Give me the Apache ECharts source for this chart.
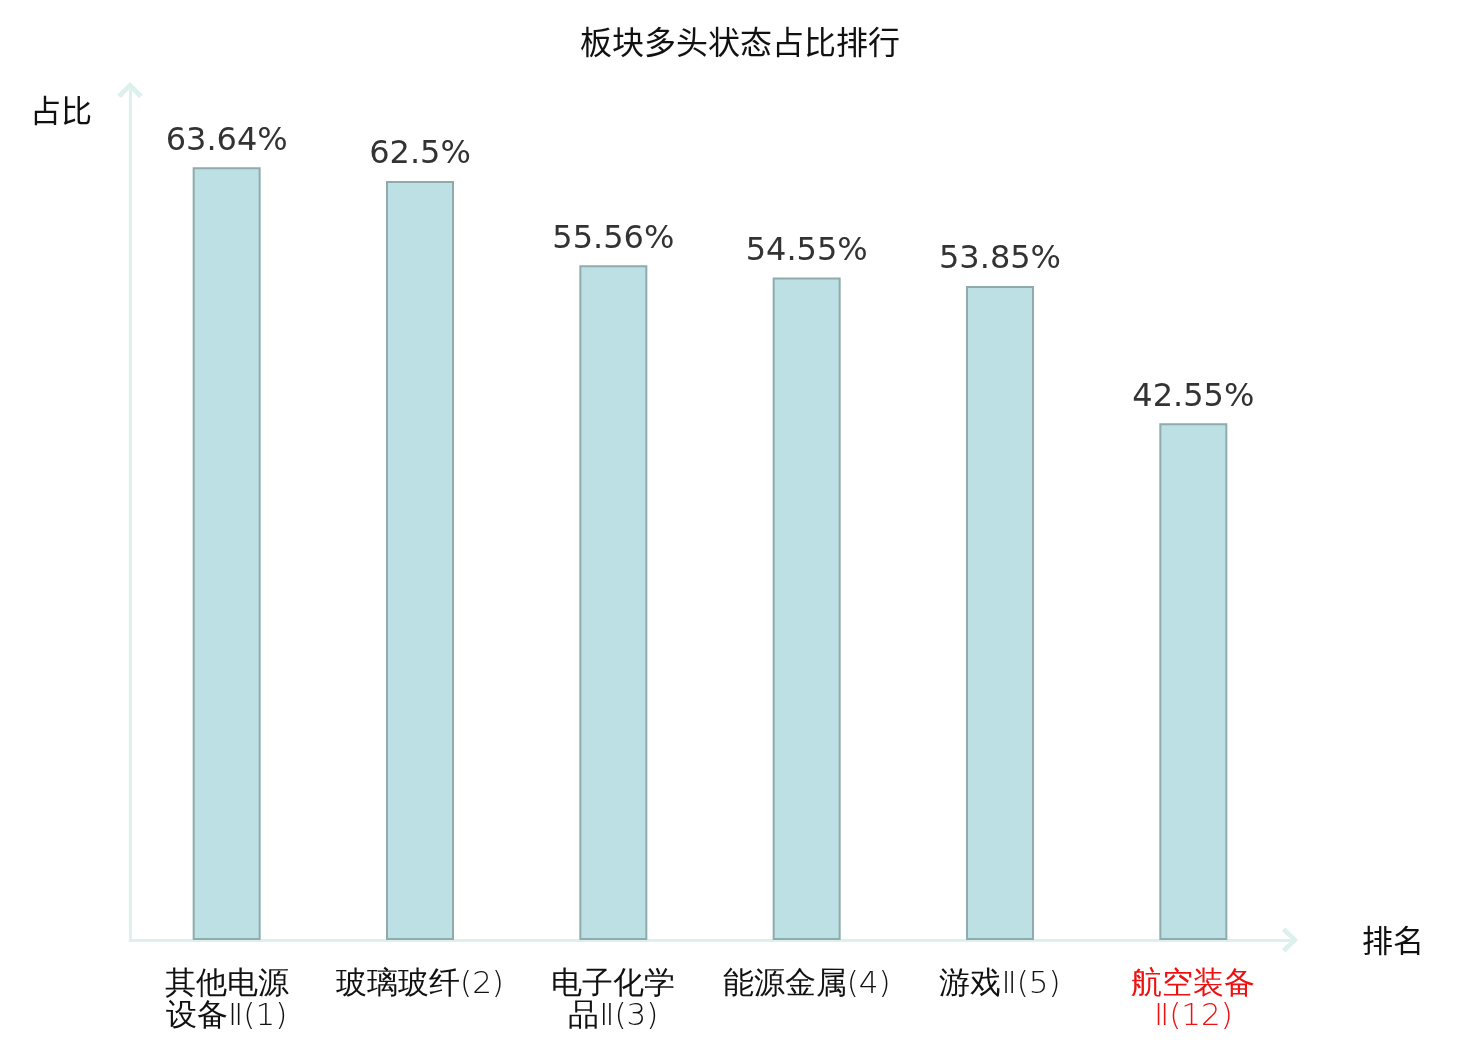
<!DOCTYPE html>
<html>
<head>
<meta charset="utf-8">
<script src="https://cdn.jsdelivr.net/npm/echarts@6/dist/echarts.min.js"></script>
<style>
  html, body { margin: 0; padding: 0; background: #fff; }
  #rankChart { width: 1480px; height: 1040px; }
</style>
</head>
<body>
<div id="rankChart"></div>
<script>
// 板块名称 (括号内为排名)
var categories = ['其他电源设备Ⅱ(1)', '玻璃玻纤(2)', '电子化学品Ⅱ(3)', '能源金属(4)', '游戏Ⅱ(5)', '航空装备Ⅱ(12)'];
// 多头状态占比 %
var shares = [63.64, 62.5, 55.56, 54.55, 53.85, 42.55];
// 需要标红的板块
var highlightName = '航空装备Ⅱ(12)';

var arrowPath = 'path://M0,10 L10,0 L20,10 L17,12.5 L10,5 L3,12.5 Z';

var rankChart = echarts.init(document.getElementById('rankChart'));
var rankChartOptions = {
  backgroundColor: '#fff',
  title: {
    text: '板块多头状态占比排行',
    left: 'center',
    top: 21,
    textStyle: {
      fontFamily: 'Noto Sans CJK SC',
      fontSize: 32,
      fontWeight: 'normal',
      color: '#111'
    }
  },
  grid: {
    left: 130,
    right: 190,
    top: 90,
    bottom: 100
  },
  xAxis: {
    type: 'category',
    name: '排名',
    nameLocation: 'end',
    nameGap: 72,
    nameTextStyle: {
      fontFamily: 'Noto Sans CJK SC',
      fontSize: 31,
      color: '#111'
    },
    data: categories.map(function (name) {
      if (name === highlightName) {
        return { value: name, textStyle: { color: '#ee1111' } };
      }
      return name;
    }),
    axisLine: {
      lineStyle: { color: '#dcf1ee', width: 3 },
      symbol: ['none', arrowPath],
      symbolSize: [26, 16]
    },
    axisTick: { show: false },
    axisLabel: {
      interval: 0,
      margin: 29,
      fontFamily: 'DejaVu Sans',
      fontWeight: 200,
      fontSize: 31,
      lineHeight: 32,
      color: '#111',
      formatter: function (name) {
        return name.length > 8 ? name.slice(0, 4) + '\n' + name.slice(4) : name;
      }
    }
  },
  yAxis: {
    type: 'value',
    min: 0,
    max: 70,
    name: '占比',
    nameLocation: 'end',
    nameGap: -20,
    nameTextStyle: {
      fontFamily: 'Noto Sans CJK SC',
      fontSize: 31,
      color: '#111',
      align: 'right',
      verticalAlign: 'middle',
      padding: [0, 38, 0, 0]
    },
    axisLine: {
      show: true,
      lineStyle: { color: '#dcf1ee', width: 3 },
      symbol: ['none', arrowPath],
      symbolSize: [26, 16]
    },
    axisTick: { show: false },
    axisLabel: { show: false },
    splitLine: { show: false }
  },
  series: [
    {
      name: '占比',
      type: 'bar',
      barWidth: 68,
      data: shares,
      itemStyle: {
        color: '#bce0e3',
        borderColor: '#8fabab',
        borderWidth: 2
      },
      label: {
        show: true,
        position: 'top',
        distance: 10,
        fontFamily: 'DejaVu Sans',
        fontSize: 32,
        color: '#333',
        formatter: function (p) { return p.value + '%'; }
      }
    }
  ]
};

rankChart.setOption(rankChartOptions);
</script>
</body>
</html>
